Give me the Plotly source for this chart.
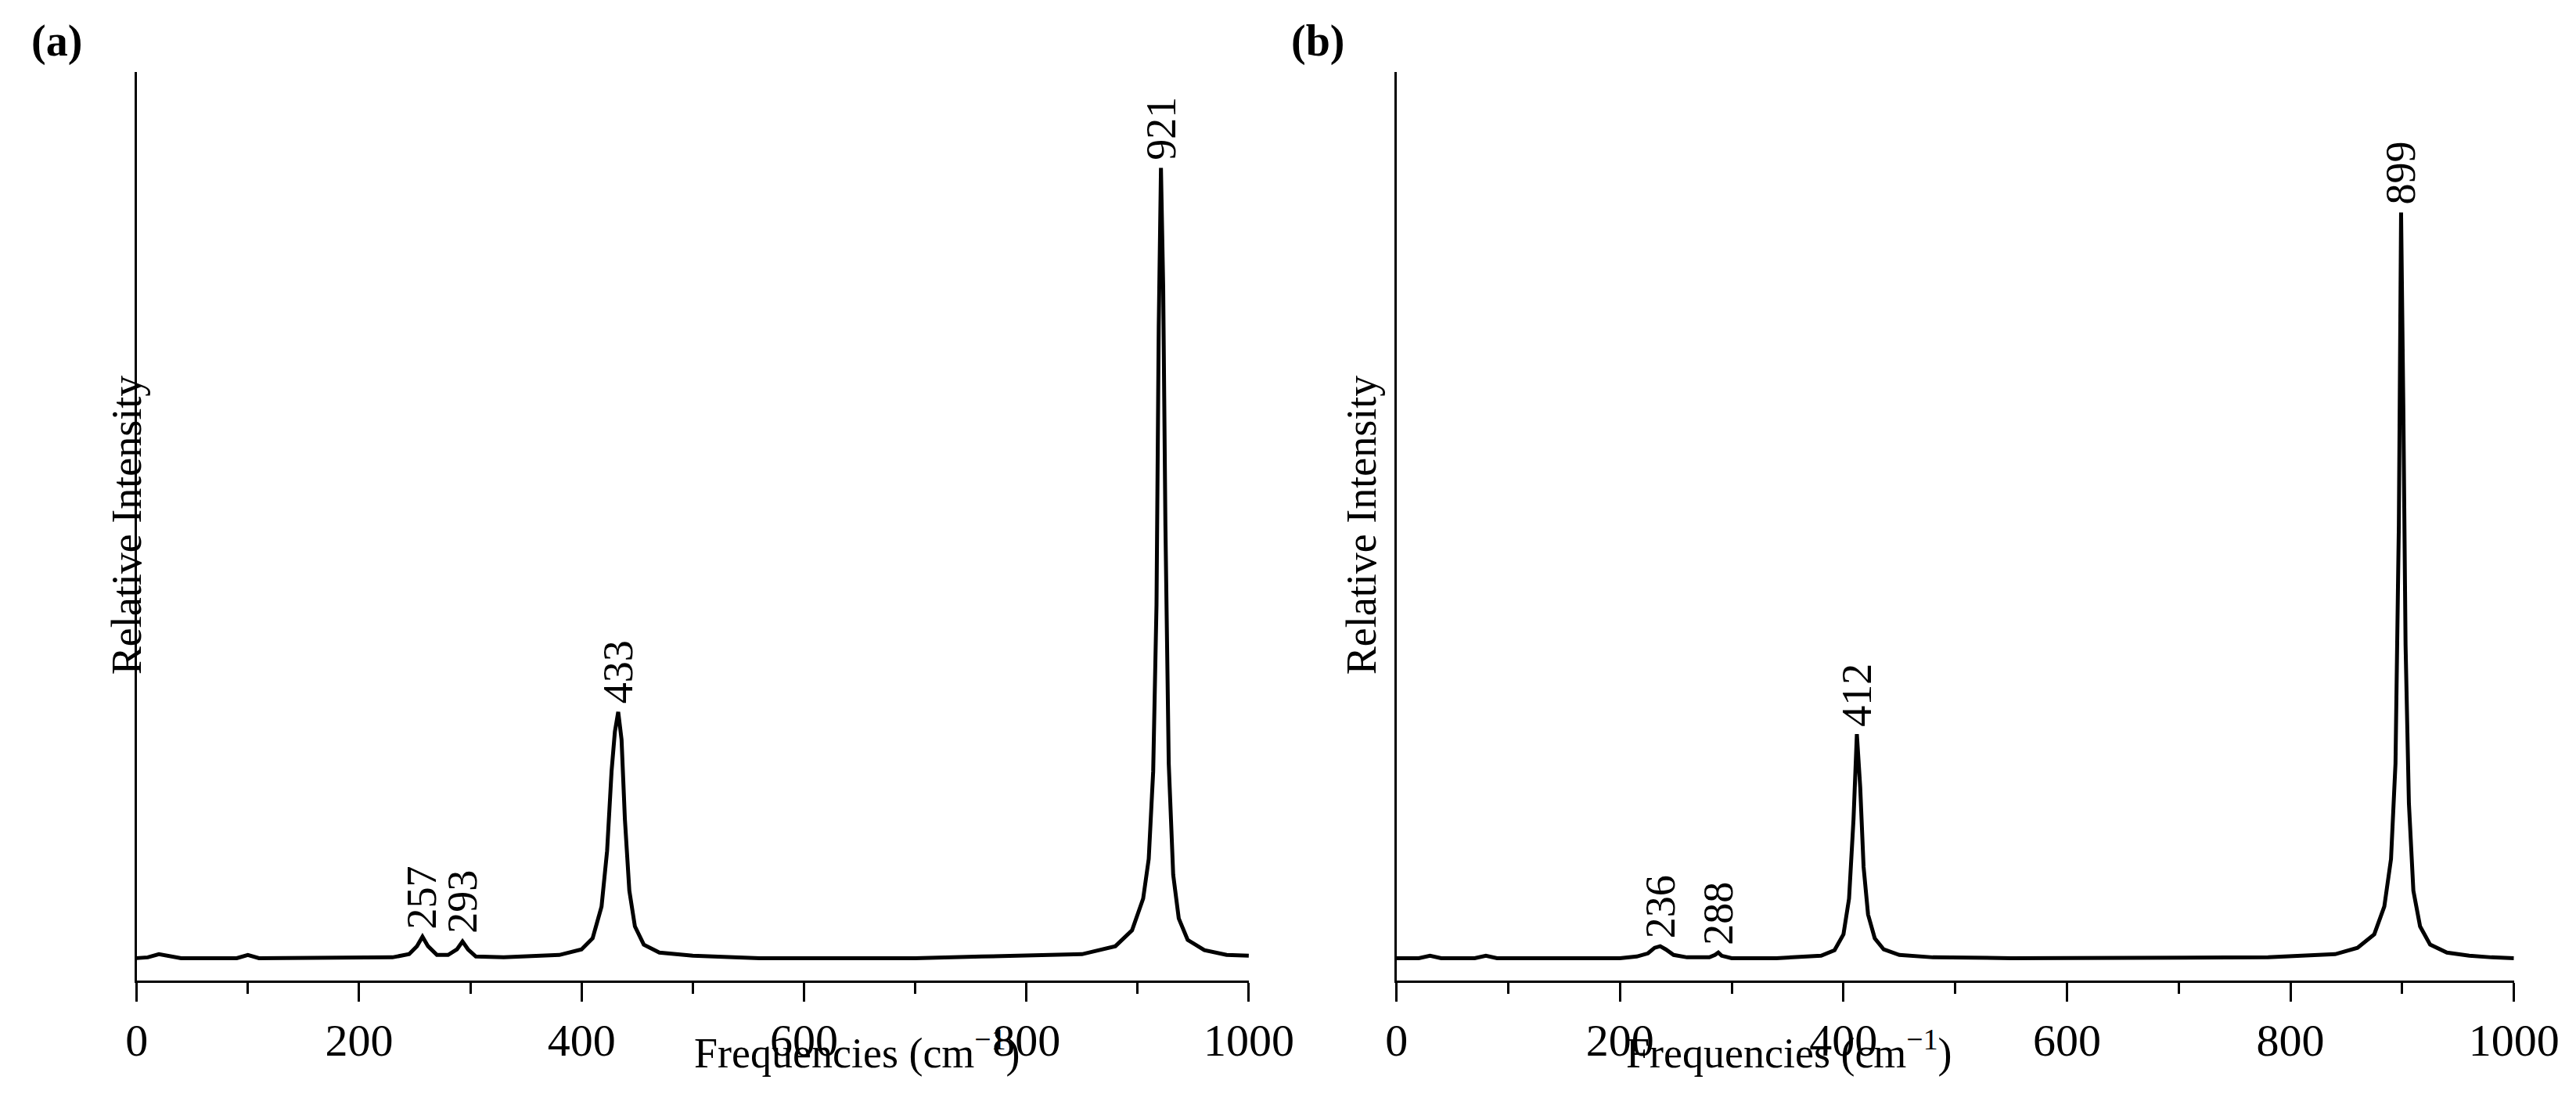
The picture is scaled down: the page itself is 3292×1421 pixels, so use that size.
import plotly.graph_objects as go

# Panel (a) spectrum
xa = [0,10,20,30,40,90,100,110,200,230,245,252,257,262,270,280,288,293,298,305,330,380,400,410,418,423,427,430,433,436,439,443,448,456,470,500,560,700,760,850,880,895,905,910,914,917,919,921,923,925,928,932,937,945,960,980,1000]
ya = [0.5,0.6,1.0,0.7,0.5,0.5,0.9,0.5,0.5,0.6,1.0,2.0,3.2,2.0,0.9,0.9,1.6,2.6,1.6,0.7,0.6,0.9,1.6,3,7,14,24,29,31.5,28,18,9,4.5,2.2,1.2,0.8,0.5,0.5,0.7,1.0,2.0,4.0,8,13,24,45,80,100,85,55,25,11,5.5,2.8,1.5,0.9,0.8]
# Panel (b) spectrum
xb = [0,20,30,40,70,80,90,200,215,225,231,236,241,248,260,280,285,288,291,300,340,380,392,400,405,409,412,415,418,422,428,436,450,480,550,700,780,840,860,875,884,890,894,897,899,901,903,906,910,916,925,940,960,980,1000]
yb = [0.5,0.5,0.8,0.5,0.5,0.8,0.5,0.5,0.7,1.1,1.8,2.0,1.6,0.9,0.6,0.6,0.9,1.2,0.8,0.5,0.5,0.8,1.5,3.5,8,18,28.7,22,12,6,3,1.6,0.9,0.6,0.5,0.5,0.6,1.0,1.8,3.5,7,13,25,55,94.4,70,40,20,9,4.5,2.2,1.2,0.8,0.6,0.5]

peaks_a = [257, 293, 433, 921]
peaks_a_y = [3.2, 2.6, 31.5, 100]
peaks_b = [236, 288, 412, 899]
peaks_b_y = [2.0, 1.2, 28.7, 94.4]
xticks = [0, 200, 400, 600, 800, 1000]

FONT = "Liberation Serif"
fig = go.Figure()
fig.add_trace(go.Scatter(x=xa, y=ya, mode="lines", line=dict(color="black", width=5), xaxis="x", yaxis="y", showlegend=False))
fig.add_trace(go.Scatter(x=xb, y=yb, mode="lines", line=dict(color="black", width=5), xaxis="x2", yaxis="y2", showlegend=False))

xax = dict(range=[0, 1000], tickvals=xticks, ticks="outside", ticklen=24, tickwidth=3, tickcolor="black",
           showline=True, linewidth=3, linecolor="black", showgrid=False, zeroline=False,
           tickfont=dict(family=FONT, size=58, color="black"),
           minor=dict(dtick=100, ticks="outside", ticklen=14, tickwidth=3, tickcolor="black"))
yax = dict(range=[-2.3, 112.1], showticklabels=False, ticks="", showline=True, linewidth=3,
           linecolor="black", showgrid=False, zeroline=False)

fig.update_layout(
    width=3292, height=1421, margin=dict(l=0, r=0, t=0, b=0),
    plot_bgcolor="white", paper_bgcolor="white",
    xaxis=dict(domain=[0.0474, 0.4888], anchor="y", **xax),
    xaxis2=dict(domain=[0.5474, 0.9909], anchor="y2", **xax),
    yaxis=dict(domain=[0.124, 0.941], anchor="x", **yax),
    yaxis2=dict(domain=[0.124, 0.941], anchor="x2", **yax),
)

ann = []
for xr, yr, pk, pky in [("x", "y", peaks_a, peaks_a_y), ("x2", "y2", peaks_b, peaks_b_y)]:
    for p, h in zip(pk, pky):
        ann.append(dict(x=p, y=h, xref=xr, yref=yr, text=str(p), textangle=-90, showarrow=False,
                        xanchor="center", yanchor="bottom", yshift=8,
                        font=dict(family=FONT, size=54, color="black")))
for xc in [0.0334, 0.5334]:
    ann.append(dict(x=xc, y=0.533, xref="paper", yref="paper", text="Relative Intensity", textangle=-90,
                    showarrow=False, font=dict(family=FONT, size=54, color="black")))
for xc in [0.268, 0.7685]:
    ann.append(dict(x=xc, y=0.036, xref="paper", yref="paper", text="Frequencies (cm<sup>−1</sup>)",
                    showarrow=False, font=dict(family=FONT, size=54, color="black")))
ann.append(dict(x=0.005, y=0.992, xref="paper", yref="paper", text="<b>(a)</b>", showarrow=False,
                xanchor="left", yanchor="top", font=dict(family=FONT, size=56, color="black")))
ann.append(dict(x=0.505, y=0.992, xref="paper", yref="paper", text="<b>(b)</b>", showarrow=False,
                xanchor="left", yanchor="top", font=dict(family=FONT, size=56, color="black")))
fig.update_layout(annotations=ann)
fig.write_html("out.html")
